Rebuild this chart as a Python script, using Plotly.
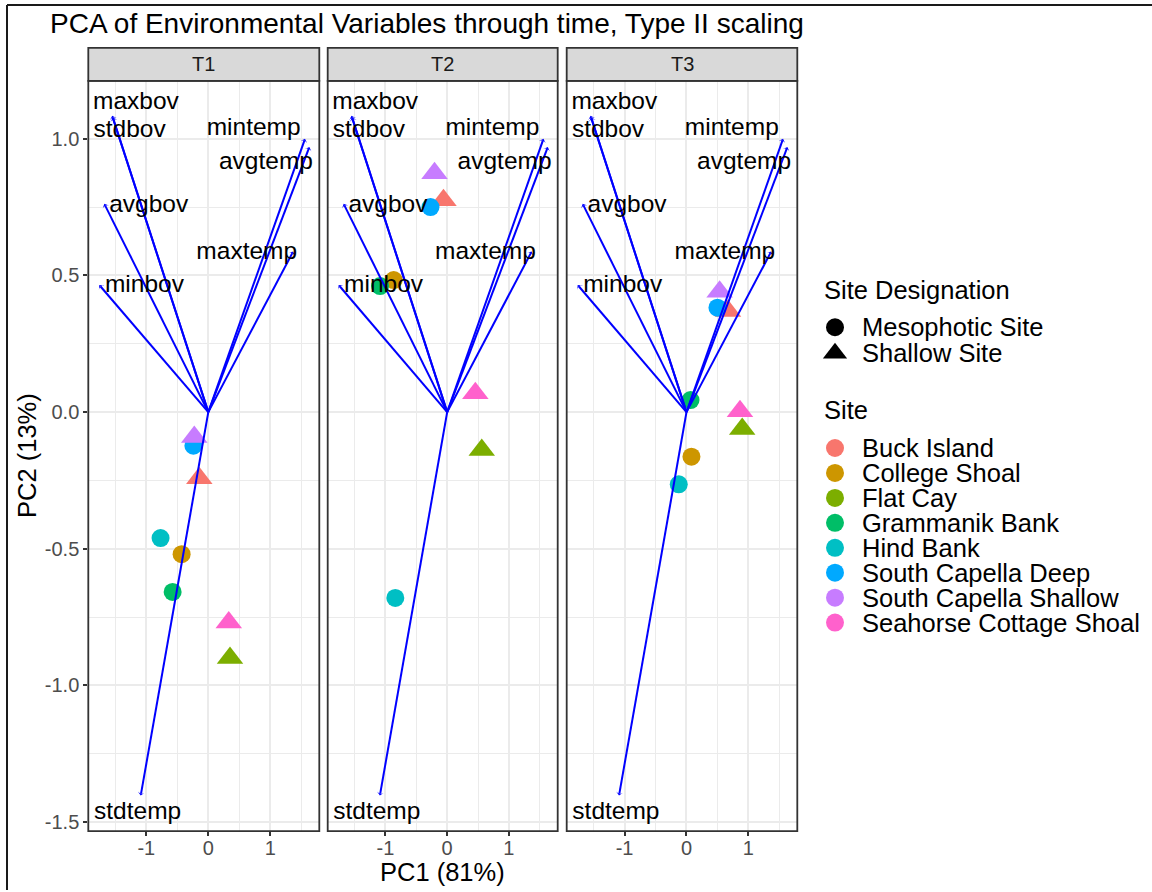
import plotly.graph_objects as go

# ---------------- data ----------------
sites = ["Buck Island", "College Shoal", "Flat Cay", "Grammanik Bank",
         "Hind Bank", "South Capella Deep", "South Capella Shallow",
         "Seahorse Cottage Shoal"]
site_type = ["Shallow Site", "Mesophotic Site", "Shallow Site", "Mesophotic Site",
             "Mesophotic Site", "Mesophotic Site", "Shallow Site", "Shallow Site"]
site_colors = ["#F8766D", "#CD9600", "#7CAE00", "#00BE67",
               "#00BFC4", "#00A9FF", "#C77CFF", "#FF61CC"]

times = ["T1", "T2", "T3"]
pc1_T1 = [-0.145, -0.43, 0.35, -0.575, -0.77, -0.24, -0.226, 0.33]
pc2_T1 = [-0.242, -0.52, -0.90, -0.658, -0.461, -0.123, -0.091, -0.77]
pc1_T2 = [-0.06, -0.866, 0.56, -1.087, -0.84, -0.27, -0.205, 0.456]
pc2_T2 = [0.775, 0.483, -0.139, 0.461, -0.68, 0.75, 0.874, 0.069]
pc1_T3 = [0.67, 0.08, 0.90, 0.065, -0.125, 0.50, 0.535, 0.864]
pc2_T3 = [0.37, -0.163, -0.062, 0.044, -0.264, 0.382, 0.44, 0.003]
scores = {"T1": (pc1_T1, pc2_T1), "T2": (pc1_T2, pc2_T2), "T3": (pc1_T3, pc2_T3)}

variables = ["maxbov", "stdbov", "avgbov", "minbov",
             "mintemp", "avgtemp", "maxtemp", "stdtemp"]
load_pc1 = [-1.55, -1.54, -1.677, -1.758, 1.56, 1.63, 1.37, -1.09]
load_pc2 = [1.084, 1.078, 0.762, 0.465, 1.0, 0.97, 0.588, -1.403]

x_ticks = [-1, 0, 1]
x_ticklabels = ["-1", "0", "1"]
y_ticks = [-1.5, -1.0, -0.5, 0.0, 0.5, 1.0]
y_ticklabels = ["-1.5", "-1.0", "-0.5", "0.0", "0.5", "1.0"]

designations = ["Mesophotic Site", "Shallow Site"]

# ---------------- styling / layout helpers ----------------
W, H = 1152, 892
FONT = "Liberation Sans, Arial, Helvetica, sans-serif"
symbol_of = {"Mesophotic Site": "circle", "Shallow Site": "triangle-up"}
size_of = {"Mesophotic Site": 18, "Shallow Site": 23}

# text nudges for the loading labels (repelled away from arrow tips)
label_nudge_x = [0.384, 0.272, 0.717, 0.728, -0.828, -0.70, -0.75, -0.05]
label_nudge_y = [0.046, -0.048, -0.009, -0.004, 0.036, -0.058, -0.005, -0.062]

panel_px = [(88.3, 319.3), (327.7, 557.7), (566.7, 797.3)]
panel_top, panel_bot = 81, 833
strip_top = 48
x_range = [-1.935, 1.79]
y_range = [-1.533, 1.212]


def fx(p):
    return p / W


def fy(p):
    return 1 - p / H


fig = go.Figure()

for i, t in enumerate(times):
    xa = "x" if i == 0 else f"x{i + 1}"
    ya = "y" if i == 0 else f"y{i + 1}"
    pc1, pc2 = scores[t]

    # site scores
    fig.add_trace(go.Scatter(
        x=pc1, y=pc2, mode="markers", xaxis=xa, yaxis=ya,
        marker=dict(color=site_colors, opacity=1,
                    symbol=[symbol_of[s] for s in site_type],
                    size=[size_of[s] for s in site_type],
                    line=dict(width=0)),
        text=sites, hoverinfo="text", showlegend=False))

    # loading vectors
    vx, vy, vs = [], [], []
    for a, b in zip(load_pc1, load_pc2):
        vx += [0, a, None]
        vy += [0, b, None]
        vs += [0, 5, 0]
    fig.add_trace(go.Scatter(
        x=vx, y=vy, mode="lines+markers", xaxis=xa, yaxis=ya,
        line=dict(color="#0000FF", width=2),
        marker=dict(symbol="arrow-wide", angleref="previous", size=vs,
                    opacity=1, color="#0000FF", line=dict(width=0)),
        hoverinfo="skip", showlegend=False))

    # loading labels
    fig.add_trace(go.Scatter(
        x=[a + d for a, d in zip(load_pc1, label_nudge_x)],
        y=[b + d for b, d in zip(load_pc2, label_nudge_y)],
        mode="text", text=variables, textposition="middle center",
        textfont=dict(family=FONT, size=24.5, color="black"),
        xaxis=xa, yaxis=ya, hoverinfo="skip", showlegend=False))

layout_axes = {}
shapes = []
annotations = []
for i, t in enumerate(times):
    xk = "xaxis" if i == 0 else f"xaxis{i + 1}"
    yk = "yaxis" if i == 0 else f"yaxis{i + 1}"
    xa = "x" if i == 0 else f"x{i + 1}"
    ya = "y" if i == 0 else f"y{i + 1}"
    x0, x1 = panel_px[i]
    layout_axes[xk] = dict(
        domain=[fx(x0), fx(x1)], range=x_range, anchor=ya,
        tickvals=x_ticks, ticktext=x_ticklabels,
        ticks="outside", ticklen=4, tickwidth=1.5, tickcolor="#333333",
        ticklabelstandoff=-5,
        tickfont=dict(family=FONT, size=20, color="#4D4D4D"),
        showgrid=True, gridcolor="#EBEBEB", gridwidth=2,
        minor=dict(tickvals=[-1.5, -0.5, 0.5, 1.5], showgrid=True,
                   gridcolor="#EBEBEB", gridwidth=1),
        zeroline=False, showline=False, fixedrange=True)
    layout_axes[yk] = dict(
        domain=[fy(panel_bot), fy(panel_top)], range=y_range, anchor=xa,
        tickvals=y_ticks, ticktext=y_ticklabels,
        ticks="outside" if i == 0 else "", ticklen=4, tickwidth=1.5,
        tickcolor="#333333", showticklabels=(i == 0),
        tickfont=dict(family=FONT, size=20, color="#4D4D4D"),
        showgrid=True, gridcolor="#EBEBEB", gridwidth=2,
        minor=dict(tickvals=[-1.25, -0.75, -0.25, 0.25, 0.75], showgrid=True,
                   gridcolor="#EBEBEB", gridwidth=1),
        zeroline=False, showline=False, fixedrange=True)
    if i > 0:
        layout_axes[yk]["matches"] = "y"

    # panel border
    shapes.append(dict(type="rect", xref=f"{xa} domain", yref=f"{ya} domain",
                       x0=0, x1=1, y0=0, y1=1,
                       line=dict(color="#333333", width=1.8), layer="above"))
    # facet strip
    shapes.append(dict(type="rect", xref=f"{xa} domain", yref="paper",
                       x0=0, x1=1, y0=fy(panel_top), y1=fy(strip_top),
                       fillcolor="#D9D9D9",
                       line=dict(color="#333333", width=1.8)))
    annotations.append(dict(text=t, xref="paper", yref="paper",
                            x=fx((x0 + x1) / 2), y=fy((strip_top + panel_top) / 2),
                            xanchor="center", yanchor="middle", showarrow=False,
                            font=dict(family=FONT, size=20, color="#1A1A1A")))

# ---------------- legend (drawn in its own pixel-scaled axis) ----------------
layout_axes["xaxis4"] = dict(domain=[fx(800), 1], range=[800, W], anchor="y4",
                             visible=False, fixedrange=True)
layout_axes["yaxis4"] = dict(domain=[0, 1], range=[H, 0], anchor="x4",
                             visible=False, fixedrange=True)

leg_glyph_x = 835
leg_text_x = 860
leg_title_x = 822
des_rows = [328, 354]
site_rows = [449, 474, 499, 524, 549, 574, 599, 624]

fig.add_trace(go.Scatter(
    x=[leg_glyph_x] * len(designations), y=des_rows, mode="markers",
    xaxis="x4", yaxis="y4",
    marker=dict(color="black", opacity=1,
                symbol=[symbol_of[d] for d in designations],
                size=[18, 21], line=dict(width=0)),
    hoverinfo="skip", showlegend=False))
fig.add_trace(go.Scatter(
    x=[leg_glyph_x] * len(sites), y=site_rows, mode="markers",
    xaxis="x4", yaxis="y4",
    marker=dict(color=site_colors, opacity=1, symbol="circle", size=18,
                line=dict(width=0)),
    hoverinfo="skip", showlegend=False))

leg_font = dict(family=FONT, size=25.5, color="black")
annotations.append(dict(text="Site Designation", xref="x4", yref="y4",
                        x=leg_title_x, y=291, xanchor="left", yanchor="middle",
                        showarrow=False, font=leg_font))
annotations.append(dict(text="Site", xref="x4", yref="y4",
                        x=leg_title_x, y=411, xanchor="left", yanchor="middle",
                        showarrow=False, font=leg_font))
for d, r in zip(designations, des_rows):
    annotations.append(dict(text=d, xref="x4", yref="y4", x=leg_text_x, y=r,
                            xanchor="left", yanchor="middle", showarrow=False,
                            font=leg_font))
for s, r in zip(sites, site_rows):
    annotations.append(dict(text=s, xref="x4", yref="y4", x=leg_text_x, y=r,
                            xanchor="left", yanchor="middle", showarrow=False,
                            font=leg_font))

# ---------------- titles ----------------
annotations.append(dict(text="PCA of Environmental Variables through time, Type II scaling",
                        xref="paper", yref="paper", x=fx(48), y=fy(24),
                        xanchor="left", yanchor="middle", showarrow=False,
                        font=dict(family=FONT, size=28, color="black")))
annotations.append(dict(text="PC1 (81%)", xref="paper", yref="paper",
                        x=fx((panel_px[0][0] + panel_px[2][1]) / 2), y=fy(874),
                        xanchor="center", yanchor="middle", showarrow=False,
                        font=dict(family=FONT, size=25.5, color="black")))
annotations.append(dict(text="PC2 (13%)", xref="paper", yref="paper",
                        x=fx(27), y=fy((panel_top + panel_bot) / 2), textangle=-90,
                        xanchor="center", yanchor="middle", showarrow=False,
                        font=dict(family=FONT, size=25.5, color="black")))

# outer frame (top and left edges)
shapes.append(dict(type="line", xref="paper", yref="paper",
                   x0=fx(7), x1=1, y0=fy(5), y1=fy(5),
                   line=dict(color="#1A1A1A", width=2)))
shapes.append(dict(type="line", xref="paper", yref="paper",
                   x0=fx(7), x1=fx(7), y0=fy(5), y1=0,
                   line=dict(color="#1A1A1A", width=2)))

fig.update_layout(
    width=W, height=H, margin=dict(l=0, r=0, t=0, b=0),
    paper_bgcolor="white", plot_bgcolor="white",
    font=dict(family=FONT),
    showlegend=False, shapes=shapes, annotations=annotations,
    **layout_axes)

fig.write_html("out.html")
